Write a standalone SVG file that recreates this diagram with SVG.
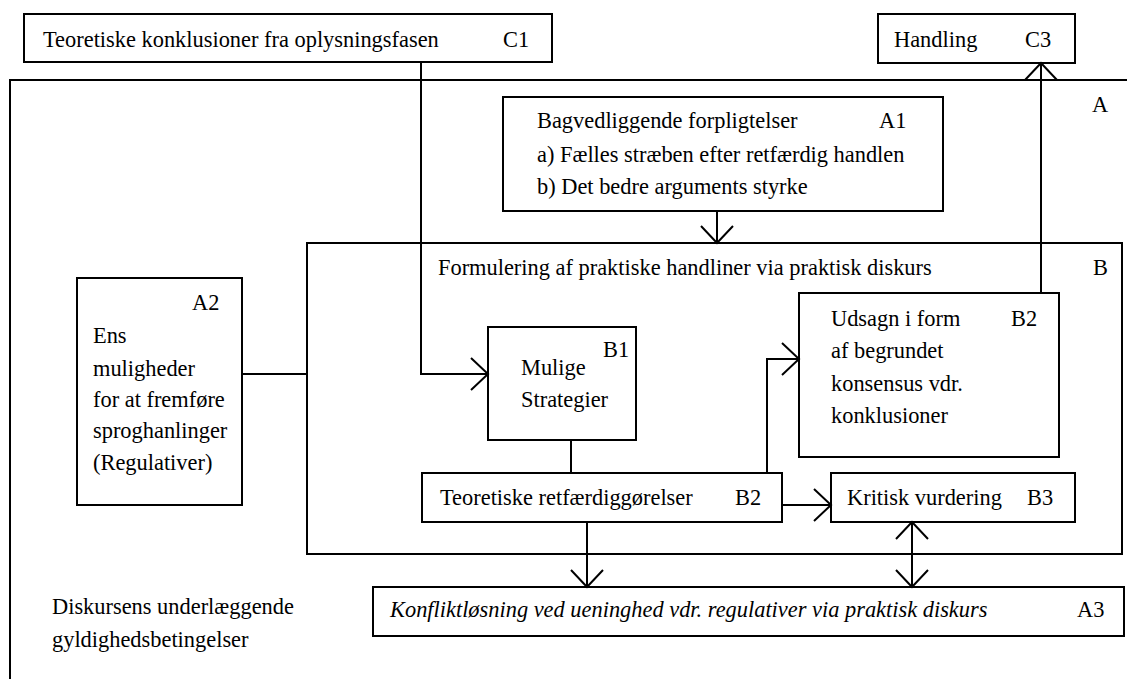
<svg xmlns="http://www.w3.org/2000/svg" width="1127" height="679" viewBox="0 0 1127 679">
<style>
  .box{fill:none;stroke:#000;stroke-width:2}
  .ln{fill:none;stroke:#000;stroke-width:2}
  text{font-family:'Liberation Serif','Times New Roman','DejaVu Serif',serif;font-size:22.4px;fill:#000}
  .it{font-style:italic}
</style>
<defs>
  <marker id="arr" markerUnits="userSpaceOnUse" markerWidth="40" markerHeight="40" viewBox="-20 -20 40 40" refX="0" refY="0" orient="auto-start-reverse">
    <path d="M-17,-16 L0,0 L-17,16" fill="none" stroke="#000" stroke-width="2"/>
  </marker>
</defs>
<rect width="1127" height="679" fill="#fff"/>
<g font-family="Liberation Serif, Times New Roman, DejaVu Serif, serif" font-size="22.4">

<g id="frameA">
  <path class="box" d="M1127,80 H10 V679"/>
  <text x="1092" y="112">A</text>
  <text x="52" y="614">Diskursens underlæggende</text>
  <text x="52" y="647">gyldighedsbetingelser</text>
</g>

<g id="C1">
  <rect class="box" x="24" y="14" width="528" height="48"/>
  <text x="43" y="47">Teoretiske konklusioner fra oplysningsfasen</text>
  <text x="503" y="47">C1</text>
</g>

<g id="C3">
  <rect class="box" x="878" y="14" width="197" height="49"/>
  <text x="894" y="47">Handling</text>
  <text x="1025" y="47">C3</text>
</g>

<g id="A1">
  <rect class="box" x="503" y="97" width="440" height="114"/>
  <text x="537" y="128">Bagvedliggende forpligtelser</text>
  <text x="879" y="128">A1</text>
  <text x="537" y="162">a) Fælles stræben efter retfærdig handlen</text>
  <text x="537" y="194">b) Det bedre arguments styrke</text>
</g>

<g id="B">
  <rect class="box" x="307" y="243" width="815" height="311"/>
  <text x="438" y="275">Formulering af praktiske handliner via praktisk diskurs</text>
  <text x="1093" y="275">B</text>
</g>

<g id="A2">
  <rect class="box" x="77" y="278" width="165" height="227"/>
  <text x="192" y="310">A2</text>
  <text x="93" y="343">Ens</text>
  <text x="93" y="376">muligheder</text>
  <text x="93" y="407">for at fremføre</text>
  <text x="93" y="438">sproghanlinger</text>
  <text x="93" y="470">(Regulativer)</text>
</g>

<g id="B1">
  <rect class="box" x="488" y="327" width="148" height="113"/>
  <text x="603" y="357">B1</text>
  <text x="521" y="375">Mulige</text>
  <text x="521" y="407">Strategier</text>
</g>

<g id="B2udsagn">
  <rect class="box" x="799" y="293" width="260" height="164"/>
  <text x="831" y="326">Udsagn i form</text>
  <text x="1011" y="326">B2</text>
  <text x="831" y="358">af begrundet</text>
  <text x="831" y="391">konsensus vdr.</text>
  <text x="831" y="423">konklusioner</text>
</g>

<g id="B2teo">
  <rect class="box" x="422" y="473" width="360" height="49"/>
  <text x="440" y="505">Teoretiske retfærdiggørelser</text>
  <text x="735" y="505">B2</text>
</g>

<g id="B3">
  <rect class="box" x="831" y="473" width="244" height="49"/>
  <text x="847" y="505">Kritisk vurdering</text>
  <text x="1027" y="505">B3</text>
</g>

<g id="A3">
  <rect class="box" x="373" y="587" width="751" height="49"/>
  <text class="it" x="390" y="617">Konfliktløsning ved ueninghed vdr. regulativer via praktisk diskurs</text>
  <text x="1077" y="617">A3</text>
</g>

<g id="connectors">
  <path class="ln" d="M421,62 V374 H488" marker-end="url(#arr)"/>
  <path class="ln" d="M242,374 H307"/>
  <path class="ln" d="M717,211 V243" marker-end="url(#arr)"/>
  <path class="ln" d="M1041,293 V63" marker-end="url(#arr)"/>
  <path class="ln" d="M571,440 V473"/>
  <path class="ln" d="M767,473 V359 H799" marker-end="url(#arr)"/>
  <path class="ln" d="M782,505 H831" marker-end="url(#arr)"/>
  <path class="ln" d="M587,522 V587" marker-end="url(#arr)"/>
  <path class="ln" d="M912,522 V587" marker-start="url(#arr)" marker-end="url(#arr)"/>
</g>
</g>
</svg>
